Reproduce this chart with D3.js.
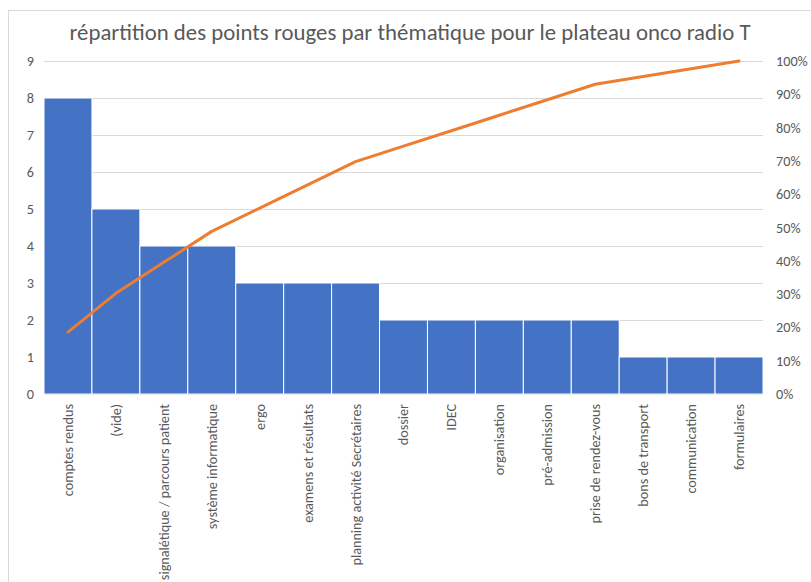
<!DOCTYPE html>
<html>
<head>
<meta charset="utf-8">
<script src="https://cdn.jsdelivr.net/npm/d3@7"></script>
<style>
  body { margin: 0; background: #fff; }
  svg { font-family: Calibri, Carlito, "Open Sans", sans-serif; }
</style>
</head>
<body>
<div id="chart"></div>
<script>
// thématiques et nombre de points rouges
const categories = [
  "comptes rendus", "(vide)", "signalétique / parcours patient",
  "système informatique", "ergo", "examens et résultats",
  "planning activité Secrétaires", "dossier", "IDEC", "organisation",
  "pré-admission", "prise de rendez-vous", "bons de transport",
  "communication", "formulaires",
];
const counts = [8, 5, 4, 4, 3, 3, 3, 2, 2, 2, 2, 2, 1, 1, 1];
const leftTicks = [0, 1, 2, 3, 4, 5, 6, 7, 8, 9];
const rightTicks = [0, 0.1, 0.2, 0.3, 0.4, 0.5, 0.6, 0.7, 0.8, 0.9, 1];

const total = d3.sum(counts);
const cumul = d3.cumsum(counts).map((c) => c / total);

const width = 811, height = 582;
const margin = { top: 61, right: 48, bottom: 188, left: 44 };

const svg = d3
  .select("#chart")
  .append("svg")
  .attr("width", width)
  .attr("height", height);

// cadre du graphique
svg.append("rect")
  .attr("x", 8.5).attr("y", 10.5)
  .attr("width", width + 10).attr("height", height + 10)
  .attr("fill", "none")
  .attr("stroke", "#d9d9d9");

svg.append("text")
  .attr("x", 410).attr("y", 40)
  .attr("text-anchor", "middle")
  .attr("fill", "#595959")
  .attr("font-size", 22.8)
  .text("répartition des points rouges par thématique pour le plateau onco radio T");

let x = d3.scaleBand()
  .domain(categories)
  .range([margin.left, width - margin.right])
  .padding(0);

let y = d3.scaleLinear().domain([0, 9]).range([height - margin.bottom, margin.top]);
let y2 = d3.scaleLinear().domain([0, 1]).range([height - margin.bottom, margin.top]);

// quadrillage
svg.append("g")
  .selectAll("line")
  .data(leftTicks)
  .enter()
  .append("line")
  .attr("x1", margin.left).attr("x2", width - margin.right)
  .attr("y1", (d) => Math.round(y(d)) + 0.5)
  .attr("y2", (d) => Math.round(y(d)) + 0.5)
  .attr("stroke", "#d9d9d9");

svg.append("g")
  .selectAll("rect")
  .data(counts)
  .enter()
  .append("rect")
  .attr("x", (d, i) => x(categories[i]))
  .attr("y", (d) => y(d))
  .attr("width", x.bandwidth())
  .attr("height", (d) => y(0) - y(d))
  .attr("fill", "#4472c4")
  .attr("stroke", "#ffffff")
  .attr("stroke-width", 1);

let line = d3.line()
  .x((d, i) => x(categories[i]) + x.bandwidth() / 2)
  .y((d) => y2(d));

svg.append("path")
  .datum(cumul)
  .attr("d", line)
  .attr("fill", "none")
  .attr("stroke", "#ed7d31")
  .attr("stroke-width", 3)
  .attr("stroke-linejoin", "round")
  .attr("stroke-linecap", "round");

// axes
let axisLeft = svg.append("g")
  .attr("transform", `translate(${margin.left},0)`)
  .call(d3.axisLeft(y).tickValues(leftTicks).tickSize(0).tickPadding(10));
axisLeft.select(".domain").remove();

let axisRight = svg.append("g")
  .attr("transform", `translate(${width - margin.right},0)`)
  .call(d3.axisRight(y2).tickValues(rightTicks).tickSize(0).tickPadding(13)
    .tickFormat(d3.format(".0%")));
axisRight.select(".domain").remove();

let axisBottom = svg.append("g")
  .attr("transform", `translate(0,${height - margin.bottom})`)
  .call(d3.axisBottom(x).tickSize(0));
axisBottom.select(".domain").remove();
axisBottom.selectAll("text")
  .attr("transform", "rotate(-90)")
  .attr("text-anchor", "end")
  .attr("x", -10)
  .attr("y", 0)
  .attr("dy", "0.35em");

svg.selectAll(".tick text")
  .attr("fill", "#595959")
  .attr("font-size", 14.2)
  .attr("font-family", "Calibri, Carlito, 'Open Sans', sans-serif");
</script>
</body>
</html>
